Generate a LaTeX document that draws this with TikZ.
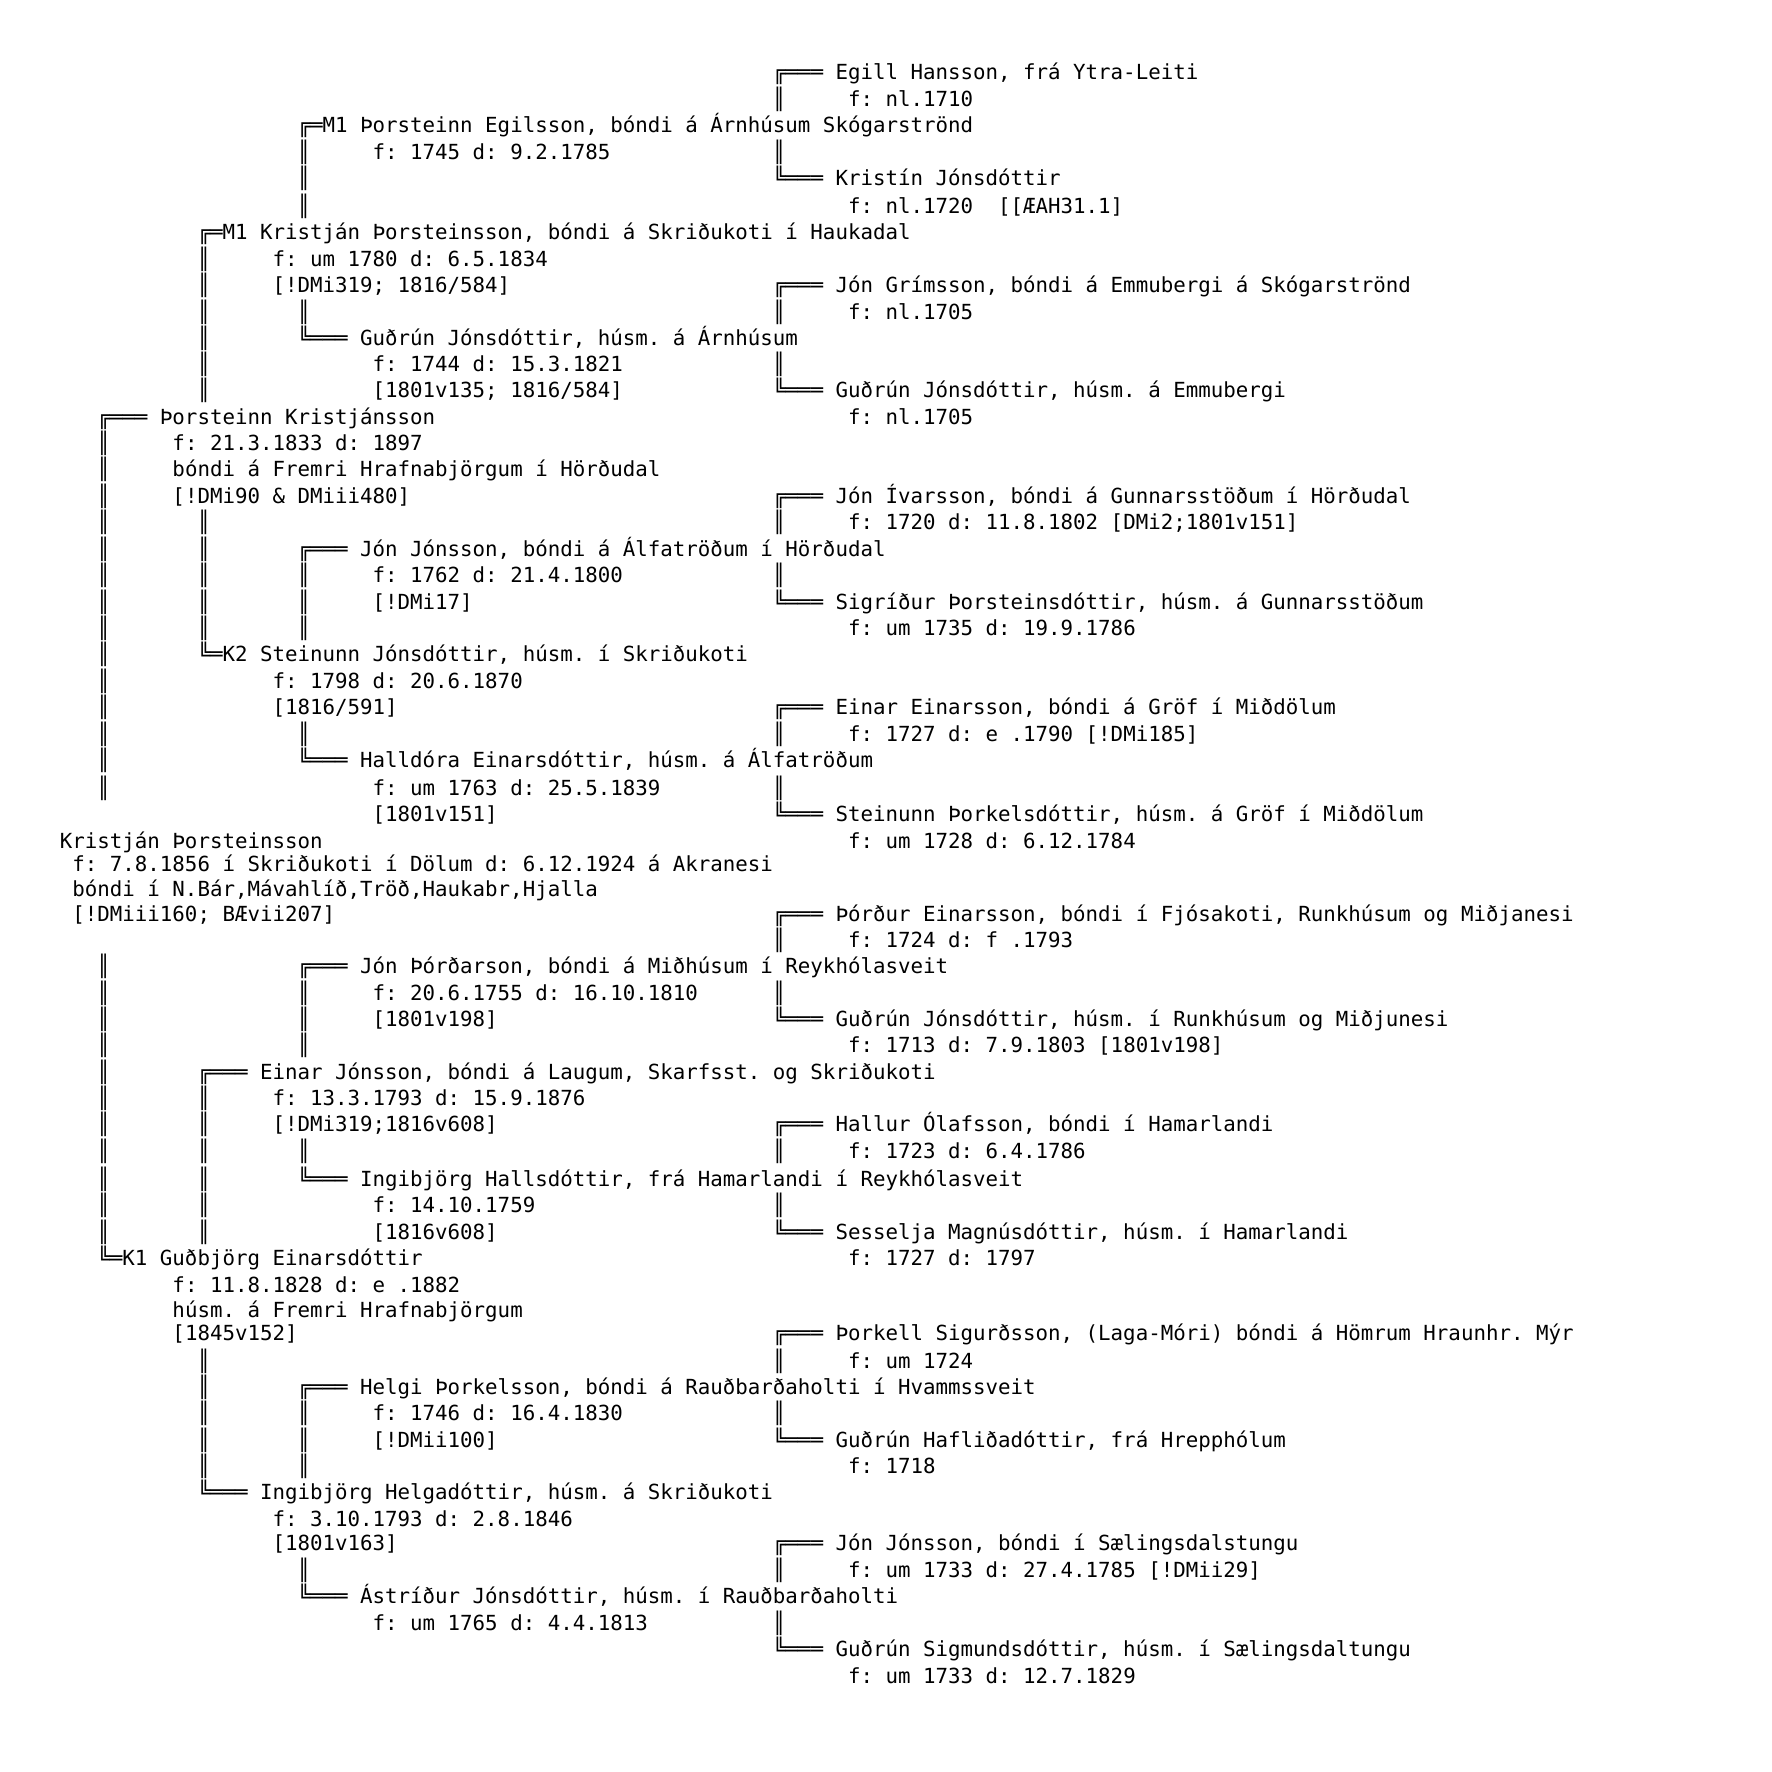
\documentclass[tikz,border=0pt]{standalone}
\usepackage{fontspec}
\newfontfamily\mono{DejaVu Sans Mono}
\frenchspacing
\def\Ys{{0,77.7,104.8,130.8,157.9,183.9,211.0,237.0,264.2,290.2,317.3,343.3,369.3,395.3,422.4,448.4,474.4,501.5,527.5,554.6,580.6,607.7,633.7,659.7,686.8,712.8,739.9,765.9,793.0,819.0,846.2,869.9,894.8,919.6,945.6,971.6,998.7,1024.7,1050.7,1077.8,1103.8,1129.8,1156.9,1184.1,1210.1,1237.2,1263.2,1290.3,1315.2,1338.9,1366.0,1392.0,1418.0,1445.1,1471.1,1497.1,1524.2,1548.0,1575.1,1601.1,1628.2,1654.2,1681.3}}
\tikzset{txt/.style={anchor=base west,inner sep=0pt,outer sep=0pt,font=\mono\fontsize{20.78pt}{24pt}\selectfont}}
\newcommand\Ln[3]{\pgfmathsetmacro\yy{\Ys[#1]+2}\pgfmathsetmacro\xx{59.9+#2*12.51}\node[txt] (L#1C#2) at (\xx pt,-\yy pt) {#3};}
\begin{document}
\begin{tikzpicture}
\fill[white] (0pt,0pt) rectangle (1772pt,-1772pt);
\useasboundingbox (0pt,0pt) rectangle (1772pt,-1772pt);
\Ln{1}{57}{╔═══ Egill Hansson, frá Ytra-Leiti}
\Ln{2}{57}{║} \Ln{2}{63}{f: nl.1710}
\Ln{3}{19}{╔═M1 Þorsteinn Egilsson, bóndi á Árnhúsum Skógarströnd}
\Ln{4}{19}{║} \Ln{4}{25}{f: 1745 d: 9.2.1785} \Ln{4}{57}{║}
\Ln{5}{19}{║} \Ln{5}{57}{╚═══ Kristín Jónsdóttir}
\Ln{6}{19}{║} \Ln{6}{63}{f: nl.1720\ \ [[ÆAH31.1]}
\Ln{7}{11}{╔═M1 Kristján Þorsteinsson, bóndi á Skriðukoti í Haukadal}
\Ln{8}{11}{║} \Ln{8}{17}{f: um 1780 d: 6.5.1834}
\Ln{9}{11}{║} \Ln{9}{17}{[!DMi319; 1816/584]} \Ln{9}{57}{╔═══ Jón Grímsson, bóndi á Emmubergi á Skógarströnd}
\Ln{10}{11}{║} \Ln{10}{19}{║} \Ln{10}{57}{║} \Ln{10}{63}{f: nl.1705}
\Ln{11}{11}{║} \Ln{11}{19}{╚═══ Guðrún Jónsdóttir, húsm. á Árnhúsum}
\Ln{12}{11}{║} \Ln{12}{25}{f: 1744 d: 15.3.1821} \Ln{12}{57}{║}
\Ln{13}{11}{║} \Ln{13}{25}{[1801v135; 1816/584]} \Ln{13}{57}{╚═══ Guðrún Jónsdóttir, húsm. á Emmubergi}
\Ln{14}{3}{╔═══ Þorsteinn Kristjánsson} \Ln{14}{63}{f: nl.1705}
\Ln{15}{3}{║} \Ln{15}{9}{f: 21.3.1833 d: 1897}
\Ln{16}{3}{║} \Ln{16}{9}{bóndi á Fremri Hrafnabjörgum í Hörðudal}
\Ln{17}{3}{║} \Ln{17}{9}{[!DMi90 \& DMiii480]} \Ln{17}{57}{╔═══ Jón Ívarsson, bóndi á Gunnarsstöðum í Hörðudal}
\Ln{18}{3}{║} \Ln{18}{11}{║} \Ln{18}{57}{║} \Ln{18}{63}{f: 1720 d: 11.8.1802 [DMi2;1801v151]}
\Ln{19}{3}{║} \Ln{19}{11}{║} \Ln{19}{19}{╔═══ Jón Jónsson, bóndi á Álfatröðum í Hörðudal}
\Ln{20}{3}{║} \Ln{20}{11}{║} \Ln{20}{19}{║} \Ln{20}{25}{f: 1762 d: 21.4.1800} \Ln{20}{57}{║}
\Ln{21}{3}{║} \Ln{21}{11}{║} \Ln{21}{19}{║} \Ln{21}{25}{[!DMi17]} \Ln{21}{57}{╚═══ Sigríður Þorsteinsdóttir, húsm. á Gunnarsstöðum}
\Ln{22}{3}{║} \Ln{22}{11}{║} \Ln{22}{19}{║} \Ln{22}{63}{f: um 1735 d: 19.9.1786}
\Ln{23}{3}{║} \Ln{23}{11}{╚═K2 Steinunn Jónsdóttir, húsm. í Skriðukoti}
\Ln{24}{3}{║} \Ln{24}{17}{f: 1798 d: 20.6.1870}
\Ln{25}{3}{║} \Ln{25}{17}{[1816/591]} \Ln{25}{57}{╔═══ Einar Einarsson, bóndi á Gröf í Miðdölum}
\Ln{26}{3}{║} \Ln{26}{19}{║} \Ln{26}{57}{║} \Ln{26}{63}{f: 1727 d: e .1790 [!DMi185]}
\Ln{27}{3}{║} \Ln{27}{19}{╚═══ Halldóra Einarsdóttir, húsm. á Álfatröðum}
\Ln{28}{3}{║} \Ln{28}{25}{f: um 1763 d: 25.5.1839} \Ln{28}{57}{║}
\Ln{29}{25}{[1801v151]} \Ln{29}{57}{╚═══ Steinunn Þorkelsdóttir, húsm. á Gröf í Miðdölum}
\Ln{30}{0}{Kristján Þorsteinsson} \Ln{30}{63}{f: um 1728 d: 6.12.1784}
\Ln{31}{1}{f: 7.8.1856 í Skriðukoti í Dölum d: 6.12.1924 á Akranesi}
\Ln{32}{1}{bóndi í N.Bár,Mávahlíð,Tröð,Haukabr,Hjalla}
\Ln{33}{1}{[!DMiii160; BÆvii207]} \Ln{33}{57}{╔═══ Þórður Einarsson, bóndi í Fjósakoti, Runkhúsum og Miðjanesi}
\Ln{34}{57}{║} \Ln{34}{63}{f: 1724 d: f .1793}
\Ln{35}{3}{║} \Ln{35}{19}{╔═══ Jón Þórðarson, bóndi á Miðhúsum í Reykhólasveit}
\Ln{36}{3}{║} \Ln{36}{19}{║} \Ln{36}{25}{f: 20.6.1755 d: 16.10.1810} \Ln{36}{57}{║}
\Ln{37}{3}{║} \Ln{37}{19}{║} \Ln{37}{25}{[1801v198]} \Ln{37}{57}{╚═══ Guðrún Jónsdóttir, húsm. í Runkhúsum og Miðjunesi}
\Ln{38}{3}{║} \Ln{38}{19}{║} \Ln{38}{63}{f: 1713 d: 7.9.1803 [1801v198]}
\Ln{39}{3}{║} \Ln{39}{11}{╔═══ Einar Jónsson, bóndi á Laugum, Skarfsst. og Skriðukoti}
\Ln{40}{3}{║} \Ln{40}{11}{║} \Ln{40}{17}{f: 13.3.1793 d: 15.9.1876}
\Ln{41}{3}{║} \Ln{41}{11}{║} \Ln{41}{17}{[!DMi319;1816v608]} \Ln{41}{57}{╔═══ Hallur Ólafsson, bóndi í Hamarlandi}
\Ln{42}{3}{║} \Ln{42}{11}{║} \Ln{42}{19}{║} \Ln{42}{57}{║} \Ln{42}{63}{f: 1723 d: 6.4.1786}
\Ln{43}{3}{║} \Ln{43}{11}{║} \Ln{43}{19}{╚═══ Ingibjörg Hallsdóttir, frá Hamarlandi í Reykhólasveit}
\Ln{44}{3}{║} \Ln{44}{11}{║} \Ln{44}{25}{f: 14.10.1759} \Ln{44}{57}{║}
\Ln{45}{3}{║} \Ln{45}{11}{║} \Ln{45}{25}{[1816v608]} \Ln{45}{57}{╚═══ Sesselja Magnúsdóttir, húsm. í Hamarlandi}
\Ln{46}{3}{╚═K1 Guðbjörg Einarsdóttir} \Ln{46}{63}{f: 1727 d: 1797}
\Ln{47}{9}{f: 11.8.1828 d: e .1882}
\Ln{48}{9}{húsm. á Fremri Hrafnabjörgum}
\Ln{49}{9}{[1845v152]} \Ln{49}{57}{╔═══ Þorkell Sigurðsson, (Laga-Móri) bóndi á Hömrum Hraunhr. Mýr}
\Ln{50}{11}{║} \Ln{50}{57}{║} \Ln{50}{63}{f: um 1724}
\Ln{51}{11}{║} \Ln{51}{19}{╔═══ Helgi Þorkelsson, bóndi á Rauðbarðaholti í Hvammssveit}
\Ln{52}{11}{║} \Ln{52}{19}{║} \Ln{52}{25}{f: 1746 d: 16.4.1830} \Ln{52}{57}{║}
\Ln{53}{11}{║} \Ln{53}{19}{║} \Ln{53}{25}{[!DMii100]} \Ln{53}{57}{╚═══ Guðrún Hafliðadóttir, frá Hrepphólum}
\Ln{54}{11}{║} \Ln{54}{19}{║} \Ln{54}{63}{f: 1718}
\Ln{55}{11}{╚═══ Ingibjörg Helgadóttir, húsm. á Skriðukoti}
\Ln{56}{17}{f: 3.10.1793 d: 2.8.1846}
\Ln{57}{17}{[1801v163]} \Ln{57}{57}{╔═══ Jón Jónsson, bóndi í Sælingsdalstungu}
\Ln{58}{19}{║} \Ln{58}{57}{║} \Ln{58}{63}{f: um 1733 d: 27.4.1785 [!DMii29]}
\Ln{59}{19}{╚═══ Ástríður Jónsdóttir, húsm. í Rauðbarðaholti}
\Ln{60}{25}{f: um 1765 d: 4.4.1813} \Ln{60}{57}{║}
\Ln{61}{57}{╚═══ Guðrún Sigmundsdóttir, húsm. í Sælingsdaltungu}
\Ln{62}{63}{f: um 1733 d: 12.7.1829}
\end{tikzpicture}
\end{document}
